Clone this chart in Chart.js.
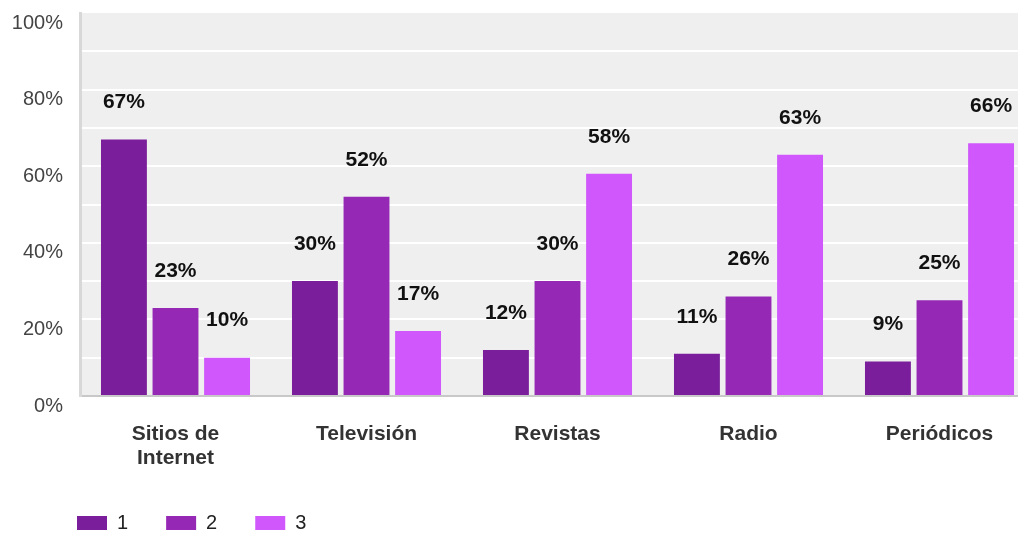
<!DOCTYPE html>
<html>
<head>
<meta charset="utf-8">
<script src="https://cdn.jsdelivr.net/npm/chart.js@4/dist/chart.umd.min.js"></script>
<style>
  html, body { margin: 0; padding: 0; background: #fff; overflow: hidden; }
  #wrap { width: 1035px; height: 535px; }
</style>
</head>
<body>
<div id="wrap"><canvas id="chart"></canvas></div>
<script>
/*
** Media ranking data (percent of answers per rank)
*/
var categories = [["Sitios de", "Internet"], "Televisión", "Revistas", "Radio", "Periódicos"];
var rank1 = [67, 30, 12, 11, 9];
var rank2 = [23, 52, 30, 26, 25];
var rank3 = [10, 17, 58, 63, 66];
var seriesNames = ["1", "2", "3"];
var seriesColors = ["#7a1e9b", "#9628b6", "#d057fb"];
var yTicks = [0, 20, 40, 60, 80, 100];

var FONT = "'Liberation Sans', Arial, sans-serif";

/*
** Gray plot background behind the bars
*/
var plotBackground = {
    id: "plotBackground",
    beforeDraw: function (chart) {
        var a = chart.chartArea, ctx = chart.ctx;
        ctx.save();
        ctx.fillStyle = "#efefef";
        ctx.fillRect(a.left, a.top, a.right - a.left, a.bottom - a.top);
        ctx.restore();
    }
};

/*
** Percent labels floating above each bar
*/
var valueLabels = {
    id: "valueLabels",
    afterDatasetsDraw: function (chart) {
        var ctx = chart.ctx;
        ctx.save();
        ctx.font = "bold 21px " + FONT;
        ctx.fillStyle = "#111";
        ctx.textAlign = "center";
        ctx.textBaseline = "middle";
        chart.data.datasets.forEach(function (ds, i) {
            chart.getDatasetMeta(i).data.forEach(function (bar, j) {
                ctx.fillText(ds.data[j] + "%", bar.x, bar.y - 37);
            });
        });
        ctx.restore();
    }
};

/*
** Legend: reserve only a thin strip in the layout, then
** move the row to the bottom left under the plot
*/
var legendPlace = {
    id: "legendPlace",
    beforeLayout: function (chart) {
        var lg = chart.legend;
        if (lg && !lg._thin) {
            var fit = lg.fit;
            lg.fit = function () {
                fit.call(this);
                this._fullHeight = this.height;
                this.height = 40;
            };
            lg._thin = true;
        }
    },
    afterLayout: function (chart) {
        var lg = chart.legend;
        lg.left += 39;
        lg.right += 39;
        lg.top = chart.height - lg._fullHeight + 8;
        lg.bottom = lg.top + lg._fullHeight;
    }
};

var data = {
    labels: categories,
    datasets: [rank1, rank2, rank3].map(function (values, i) {
        return {
            label: seriesNames[i],
            data: values,
            backgroundColor: seriesColors[i],
            borderWidth: 0,
            categoryPercentage: 0.81,
            barPercentage: 0.89
        };
    })
};

var options = {
    responsive: true,
    maintainAspectRatio: false,
    animation: false,
    layout: { padding: { top: 13, left: 0, right: 0, bottom: 0 } },
    plugins: {
        tooltip: { enabled: false },
        legend: {
            position: "bottom",
            align: "start",
            labels: {
                boxWidth: 30,
                boxHeight: 14,
                padding: 38,
                color: "#222",
                font: { family: FONT, size: 20 }
            }
        }
    },
    scales: {
        x: {
            afterFit: function (scale) {
                scale.height = 535 - 396 - 40;
            },
            grid: { display: false },
            border: { color: "#c8c8c8", width: 2 },
            ticks: {
                padding: 18,
                color: "#333",
                maxRotation: 0,
                font: { family: FONT, size: 21, weight: "bold", lineHeight: 1.15 }
            }
        },
        y: {
            min: 0,
            max: 100,
            afterFit: function (scale) {
                scale.width = 80;
                scale.paddingTop = 0;
                scale.paddingBottom = 0;
            },
            afterBuildTicks: function (scale) {
                var t = [];
                for (var v = 0; v <= 100; v += 10) t.push({ value: v });
                scale.ticks = t;
            },
            grid: {
                drawTicks: false,
                lineWidth: 2,
                color: function (c) {
                    return (c.tick && (c.tick.value === 0 || c.tick.value === 100)) ? "rgba(0,0,0,0)" : "#ffffff";
                }
            },
            border: { color: "#d8d8d8", width: 3 },
            ticks: {
                padding: 17,
                labelOffset: 10,
                color: "#444",
                font: { family: FONT, size: 20 },
                callback: function (v) {
                    return yTicks.indexOf(v) >= 0 ? v + "%" : "";
                }
            }
        }
    }
};

new Chart(document.getElementById("chart"), {
    type: "bar",
    data: data,
    options: options,
    plugins: [plotBackground, valueLabels, legendPlace]
});
</script>
</body>
</html>
